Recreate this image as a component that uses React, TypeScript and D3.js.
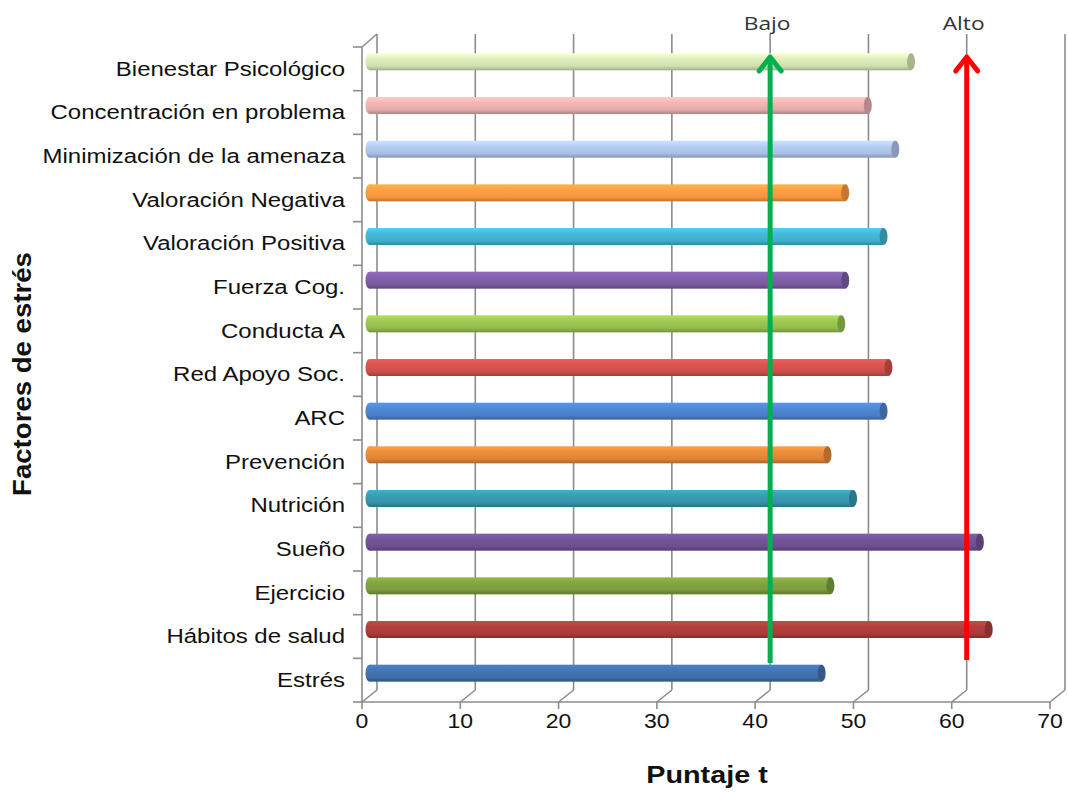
import * as d3 from 'd3';

const categories = [
  'Bienestar Psicológico',
  'Concentración en problema',
  'Minimización de la amenaza',
  'Valoración Negativa',
  'Valoración Positiva',
  'Fuerza Cog.',
  'Conducta A',
  'Red Apoyo Soc.',
  'ARC',
  'Prevención',
  'Nutrición',
  'Sueño',
  'Ejercicio',
  'Hábitos de salud',
  'Estrés',
];

const values = [55.1, 50.7, 53.5, 48.4, 52.3, 48.4, 48.0, 52.8, 52.3, 46.6, 49.2, 62.1, 46.9, 63.0, 46.0];

const barColors = [
  '#cfdfae', '#e2aaa9', '#a9bfe3', '#f5953f', '#40aecb', '#7b5aa0', '#93bb4c', '#cc4e4b',
  '#4a7fc7', '#de8334', '#3592a8', '#6c4f8f', '#7a9a3d', '#a73c3a', '#3f6ea8',
];

const xTicks = [0, 10, 20, 30, 40, 50, 60, 70];

const markers = [
  { label: 'Bajo', value: 40, color: '#00b050', bottom: 663 },
  { label: 'Alto', value: 60, color: '#ff0000', bottom: 660 },
];

const W = 1068;
const H = 792;
const DX = 15;
const DY = -12;
const FONT = '"Liberation Sans", Arial, sans-serif';

export default function App() {
  const x = d3.scaleLinear().domain([0, 70]).range([362, 1050]);
  const y = d3.scaleBand<string>().domain(categories).range([47, 702]);
  const floorY = 702;
  const wallTop = 34;
  const barH = 17;

  return (
    <svg width={W} height={H} style={{ position: 'absolute', left: 0, top: 0, background: '#fff' }}>
      <defs>
        {barColors.map((c, i) => {
          const base = d3.color(c)!;
          return (
            <linearGradient key={i} id={`g${i}`} x1="0" y1="0" x2="0" y2="1">
              <stop offset="0" stopColor={base.brighter(0.5).formatHex()} />
              <stop offset="0.35" stopColor={base.brighter(0.2).formatHex()} />
              <stop offset="0.75" stopColor={c} />
              <stop offset="1" stopColor={base.darker(0.7).formatHex()} />
            </linearGradient>
          );
        })}
      </defs>

      {/* back wall gridlines and floor diagonals */}
      <g stroke="#8c8c8c" strokeWidth={1.6} fill="none">
        {xTicks.map((t) => (
          <g key={t}>
            <line x1={x(t) + DX} y1={wallTop} x2={x(t) + DX} y2={floorY + DY} />
            <line x1={x(t)} y1={floorY} x2={x(t) + DX} y2={floorY + DY} />
            <line x1={x(t)} y1={floorY} x2={x(t)} y2={floorY + 7} />
          </g>
        ))}
        <line x1={x(0)} y1={floorY} x2={x(70)} y2={floorY} />
        <line x1={x(0)} y1={47} x2={x(0)} y2={floorY} />
        <line x1={x(0)} y1={47} x2={x(0) + DX} y2={wallTop} />
        {categories.map((c) => (
          <line key={c} x1={x(0) - 9} y1={y(c)!} x2={x(0)} y2={y(c)!} />
        ))}
        <line x1={x(0) - 9} y1={floorY} x2={x(0)} y2={floorY} />
      </g>

      {/* cylinders */}
      {categories.map((c, i) => {
        const cy = y(c)! + y.bandwidth() / 2 - 7;
        const x0 = x(0) + DX / 2;
        const x1 = x0 + (x(values[i]) - x(0));
        const dark = d3.color(barColors[i])!.darker(0.6).formatHex();
        return (
          <g key={c}>
            <ellipse cx={x0} cy={cy} rx={4} ry={barH / 2} fill={`url(#g${i})`} />
            <rect x={x0} y={cy - barH / 2} width={x1 - x0} height={barH} fill={`url(#g${i})`} />
            <ellipse cx={x1} cy={cy} rx={4} ry={barH / 2} fill={dark} />
          </g>
        );
      })}

      {/* category labels */}
      {categories.map((c) => (
        <text
          key={c}
          transform={`translate(345,${y(c)! + y.bandwidth() / 2}) scale(1.23,1)`}
          dy="0.35em"
          textAnchor="end"
          fontFamily={FONT}
          fontSize={19.5}
          fill="#111"
        >
          {c}
        </text>
      ))}

      {/* x tick labels */}
      {xTicks.map((t) => (
        <text
          key={t}
          transform={`translate(${x(t)},721) scale(1.15,1)`}
          dy="0.35em"
          textAnchor="middle"
          fontFamily={FONT}
          fontSize={20}
          fill="#111"
        >
          {t}
        </text>
      ))}

      {/* markers */}
      {markers.map((m) => {
        const mx = x(m.value) + DX;
        const tip = 55;
        return (
          <g key={m.label}>
            <line x1={mx} y1={m.bottom} x2={mx} y2={tip + 2} stroke={m.color} strokeWidth={5} />
            <polyline
              points={`${mx - 11},${tip + 16} ${mx},${tip + 2} ${mx + 11},${tip + 16}`}
              fill="none"
              stroke={m.color}
              strokeWidth={5}
              strokeLinecap="round"
              strokeLinejoin="round"
            />
            <text
              transform={`translate(${mx - 3},23) scale(1.2,1)`}
              dy="0.35em"
              textAnchor="middle"
              fontFamily='"Open Sans", sans-serif'
              fontSize={19}
              fill="#333"
            >
              {m.label}
            </text>
          </g>
        );
      })}

      {/* axis titles */}
      <text
        transform="translate(707,775) scale(1.2,1)"
        dy="0.35em"
        textAnchor="middle"
        fontFamily={FONT}
        fontWeight="bold"
        fontSize={24}
        fill="#111"
      >
        Puntaje t
      </text>
      <text
        transform="translate(22,374) rotate(-90) scale(1.15,1.1)"
        dy="0.35em"
        textAnchor="middle"
        fontFamily={FONT}
        fontWeight="bold"
        fontSize={24}
        fill="#111"
      >
        Factores de estrés
      </text>
    </svg>
  );
}
